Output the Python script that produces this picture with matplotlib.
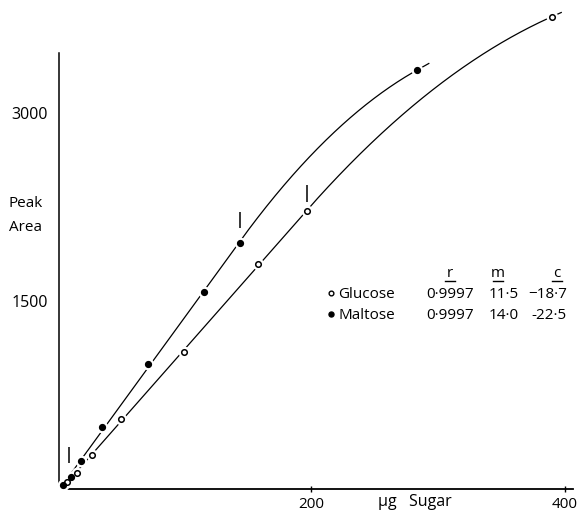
import numpy as np
import matplotlib
matplotlib.use("Agg")
import matplotlib.pyplot as plt

# Calibration data: µg sugar vs detector peak area
glucose_ug = [7.5, 15.5, 27.3, 50.4, 100.2, 158.0, 196.6, 389.5]
glucose_area = [56, 130, 269, 556, 1091, 1793, 2218, 3768]
maltose_ug = [5.0, 11.0, 18.9, 35.2, 71.4, 115.7, 143.9, 283.2]
maltose_area = [32, 93, 226, 497, 997, 1569, 1963, 3341]

# Upper / lower limits of the linear range (µg) and the short marker bars
limit_ug = [9.7, 143.9, 196.6]
limit_lo = [207, 2083, 2290]
limit_hi = [335, 2210, 2426]
glucose_linear_max = 196.6
maltose_linear_max = 143.9

# Regression statistics
names = ["Glucose", "Maltose"]
r_vals = ["0·9997", "0·9997"]
m_vals = ["11·5", "14·0"]
c_vals = ["−18·7", "-22·5"]
headers = ["r", "m", "c"]

x_ticks = [200, 400]
y_ticks = [1500, 3000]

plt.rcParams["font.family"] = ["Open Sans", "DejaVu Sans"]


def response_curve(x, y, x_lin, xs):
    """Straight least-squares line over the linear range, then a quadratic
    bend through the last point, continued along its end tangent."""
    x = np.asarray(x, float)
    y = np.asarray(y, float)
    sel = x <= x_lin + 1e-9
    slope, icpt = np.polyfit(x[sel], y[sel], 1)
    x0, y0 = x_lin, slope * x_lin + icpt
    x1, y1 = x[-1], y[-1]
    a = (y1 - y0 - slope * (x1 - x0)) / (x1 - x0) ** 2
    end_slope = slope + 2 * a * (x1 - x0)
    ys = np.where(
        xs <= x0,
        slope * xs + icpt,
        np.where(xs <= x1,
                 y0 + slope * (xs - x0) + a * (xs - x0) ** 2,
                 y1 + end_slope * (xs - x1)),
    )
    return ys


W, H = 579, 511
fig = plt.figure(figsize=(W / 100, H / 100), dpi=100)
ax = fig.add_axes([57 / W, 22 / H, 515.6 / W, 489 / H])
ax.set_xlim(0, 406)
ax.set_ylim(0, 3902)

lw = 0.9
for xs_d, ys_d, x_lin, ext in [(glucose_ug, glucose_area, glucose_linear_max, 8),
                               (maltose_ug, maltose_area, maltose_linear_max, 10)]:
    xs = np.linspace(2.5, xs_d[-1] + ext, 800)
    ax.plot(xs, response_curve(xs_d, ys_d, x_lin, xs), color="black", lw=lw,
            zorder=2, solid_capstyle="butt")

# white halo around each marker gives the broken-line look
for xs_d, ys_d in [(glucose_ug, glucose_area), (maltose_ug, maltose_area)]:
    ax.plot(xs_d, ys_d, "o", ms=8.5, color="white", mec="none", zorder=3, clip_on=False)

ax.plot(glucose_ug, glucose_area, "o", ms=4.0, mfc="white", mec="black", mew=1.1,
        zorder=4, clip_on=False)
ax.plot(maltose_ug, maltose_area, "o", ms=4.2, mfc="black", mec="black",
        zorder=4, clip_on=False)

ax.vlines(limit_ug, limit_lo, limit_hi, color="black", lw=1.1, zorder=2)

# axes styling
for s in ("top", "right"):
    ax.spines[s].set_visible(False)
ax.spines["left"].set_position(("data", 1.6))
ax.spines["left"].set_bounds(32, 3479)
ax.spines["bottom"].set_bounds(8, 406)
ax.spines["left"].set_linewidth(1.1)
ax.spines["bottom"].set_linewidth(1.3)

ax.set_xticks(x_ticks)
ax.set_xticklabels([str(v) for v in x_ticks], fontsize=11)
ax.set_yticks(y_ticks)
ax.set_yticklabels([str(v) for v in y_ticks], fontsize=11.5)
ax.tick_params(axis="x", direction="inout", length=4, width=1, pad=4)
ax.tick_params(axis="y", length=0, pad=8)

# axis captions
fig.text(9 / W, 1 - 203 / H, "Peak", fontsize=11, ha="left", va="center")
fig.text(9 / W, 1 - 227 / H, "Area", fontsize=11, ha="left", va="center")
fig.text(378 / W, 1 - 502 / H, "µg   Sugar", fontsize=11.5, ha="left", va="center")

# regression table (pixel coordinates overlay)
tab = fig.add_axes([0, 0, 1, 1], facecolor="none")
tab.set_xlim(0, W)
tab.set_ylim(H, 0)
tab.axis("off")

hdr_x = [450, 498, 557]
for xp, lab in zip(hdr_x, headers):
    tab.text(xp, 277, lab, fontsize=11, ha="center", va="baseline")
    tab.plot([xp - 5, xp + 5], [281, 281], color="black", lw=1.0)

rows_y = [298, 319]
for i, name in enumerate(names):
    yy = rows_y[i]
    tab.text(338, yy, name, fontsize=11, ha="left", va="baseline")
    tab.text(426, yy, r_vals[i], fontsize=11, ha="left", va="baseline")
    tab.text(504, yy, m_vals[i], fontsize=11, ha="center", va="baseline")
    tab.text(567, yy, c_vals[i], fontsize=11, ha="right", va="baseline")

tab.plot([331], [rows_y[0] - 4.5], "o", ms=3.4, mfc="white", mec="black", mew=1.0)
tab.plot([331], [rows_y[1] - 4.5], "o", ms=3.6, color="black")

fig.savefig("out.png", dpi=100)
